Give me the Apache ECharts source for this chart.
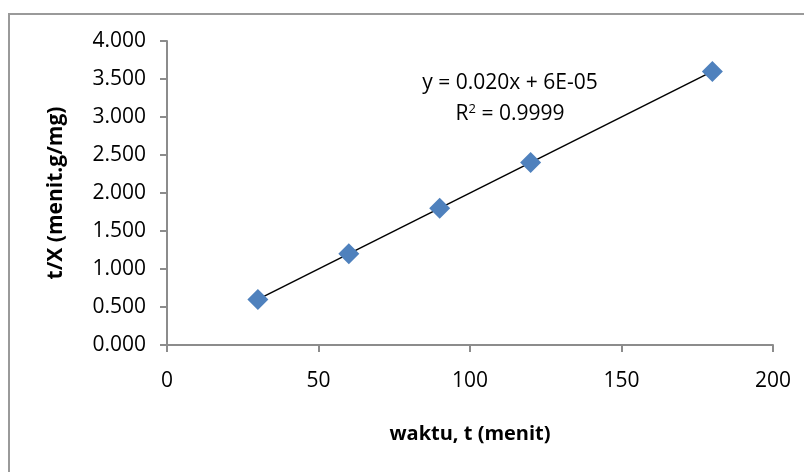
<!DOCTYPE html>
<html>
<head>
<meta charset="utf-8">
<script src="https://cdn.jsdelivr.net/npm/echarts@6/dist/echarts.min.js"></script>
<style>
  html, body { margin: 0; padding: 0; background: #fff; }
  #chart { width: 804px; height: 472px; }
</style>
</head>
<body>
<div id="chart"></div>
<script>
// data
var waktu = [30, 60, 90, 120, 180];
var tPerX = [0.6, 1.2, 1.8, 2.4, 3.6];
// trendline end points (Excel linear fit)
var trendX = [30, 180];
var trendY = [0.6, 3.6];
var xTicks = [0, 50, 100, 150, 200];
var yTicks = [0, 0.5, 1, 1.5, 2, 2.5, 3, 3.5, 4];

var font = '"Open Sans", sans-serif';

var chart = echarts.init(document.getElementById('chart'));

var pts = waktu.map(function (x, i) { return [x, tPerX[i]]; });
var trend = trendX.map(function (x, i) { return [x, trendY[i]]; });

var option = {
  animation: false,
  textStyle: { fontFamily: font },
  grid: { left: 167, right: 31, top: 41, bottom: 127 },
  xAxis: {
    type: 'value',
    min: xTicks[0], max: xTicks[xTicks.length - 1], interval: 50,
    name: 'waktu, t (menit)',
    nameLocation: 'middle',
    nameGap: 79,
    nameTextStyle: { fontFamily: font, fontSize: 20, fontWeight: 'bold', color: '#000', verticalAlign: 'top' },
    axisLine: { lineStyle: { color: '#8c8c8c', width: 2 } },
    axisTick: { show: true, length: 7, lineStyle: { color: '#8c8c8c', width: 2 } },
    axisLabel: { color: '#000', fontSize: 21, margin: 26, fontFamily: font },
    splitLine: { show: false }
  },
  yAxis: {
    type: 'value',
    min: yTicks[0], max: yTicks[yTicks.length - 1], interval: 0.5,
    name: 't/X (menit.g/mg)',
    nameLocation: 'middle',
    nameGap: 100,
    nameTextStyle: { fontFamily: font, fontSize: 21, fontWeight: 'bold', color: '#000' },
    axisLine: { show: true, lineStyle: { color: '#8c8c8c', width: 2 } },
    axisTick: { show: true, length: 7, lineStyle: { color: '#8c8c8c', width: 2 } },
    axisLabel: {
      color: '#000', fontSize: 21, margin: 21, fontFamily: font,
      formatter: function (v) { return v.toFixed(3); }
    },
    splitLine: { show: false }
  },
  graphic: [
    {
      type: 'rect', silent: true, z: -1,
      shape: { x: 9, y: 14, width: 830, height: 500 },
      style: { fill: 'none', stroke: '#9a9a9a', lineWidth: 2 }
    },
    {
      type: 'text', x: 510, y: 73,
      style: {
        text: 'y = 0.020x + 6E-05', font: '21px "Open Sans", sans-serif',
        fill: '#000', align: 'center'
      }
    },
    {
      type: 'text', x: 510, y: 103,
      style: {
        text: '{a|R}{s|2}{a| = 0.9999}',
        align: 'center',
        fill: '#000',
        rich: {
          a: { fontFamily: font, fontSize: 21, color: '#000' },
          s: { fontFamily: font, fontSize: 13, color: '#000', verticalAlign: 'top', padding: [0, 0, 10, 0] }
        }
      }
    }
  ],
  series: [
    {
      type: 'line',
      data: trend,
      symbol: 'none',
      lineStyle: { color: '#000', width: 1.5 },
      z: 2
    },
    {
      type: 'scatter',
      data: pts,
      symbol: 'diamond',
      symbolSize: [21, 21],
      itemStyle: { color: '#4F81BD', opacity: 1 },
      z: 3
    }
  ]
};
chart.setOption(option);
</script>
</body>
</html>
